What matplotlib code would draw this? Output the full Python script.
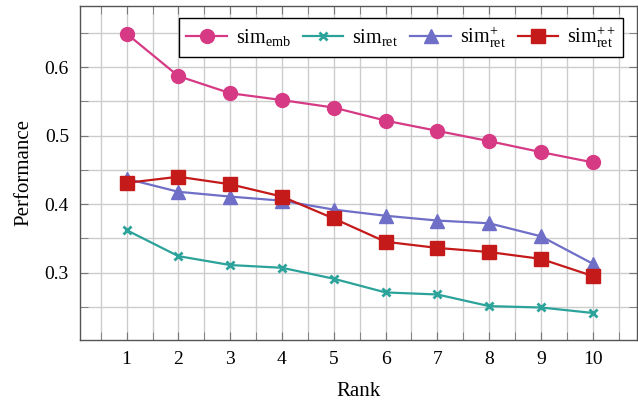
import numpy as np
import matplotlib.pyplot as plt
from matplotlib.ticker import MultipleLocator

plt.rcParams['font.family'] = ['Liberation Serif', 'DejaVu Serif']
plt.rcParams['mathtext.fontset'] = 'custom'
plt.rcParams['mathtext.rm'] = 'Liberation Serif'
plt.rcParams['mathtext.it'] = 'Liberation Serif:italic'

rank = [1, 2, 3, 4, 5, 6, 7, 8, 9, 10]
sim_emb = [0.649, 0.587, 0.562, 0.552, 0.541, 0.522, 0.507, 0.492, 0.476, 0.461]
sim_ret = [0.362, 0.324, 0.311, 0.307, 0.291, 0.271, 0.268, 0.251, 0.249, 0.241]
sim_ret_p = [0.437, 0.418, 0.411, 0.405, 0.392, 0.383, 0.376, 0.372, 0.353, 0.313]
sim_ret_pp = [0.431, 0.440, 0.429, 0.411, 0.379, 0.345, 0.336, 0.330, 0.320, 0.295]

fig = plt.figure(figsize=(6.38, 4.0), dpi=100)
ax = fig.add_axes([0.1254, 0.15, 0.8726, 0.836])

ax.plot(rank, sim_emb, color='#d63a84', lw=1.6, marker='o', ms=10, label=r'sim$_{\rm emb}$')
ax.plot(rank, sim_ret, color='#2ba39a', lw=1.6, marker='x', ms=6, mew=2, label=r'sim$_{\rm ret}$')
ax.plot(rank, sim_ret_p, color='#6f6fc8', lw=1.6, marker='^', ms=10, label=r'sim$^{+}_{\rm ret}$')
ax.plot(rank, sim_ret_pp, color='#c41a1a', lw=1.6, marker='s', ms=10, label=r'sim$^{++}_{\rm ret}$')

ax.set_xlim(0.1, 10.85)
ax.set_ylim(0.2015, 0.69)
ax.set_xticks(rank)
ax.xaxis.set_minor_locator(MultipleLocator(0.5))
ax.yaxis.set_major_locator(MultipleLocator(0.1))
ax.yaxis.set_minor_locator(MultipleLocator(0.05))
ax.grid(which='both', color='#cccccc', lw=1.0)
ax.set_axisbelow(True)
ax.tick_params(which='both', direction='in', top=True, right=True, length=6,
               color='#777777', labelsize=14, pad=8)
for s in ax.spines.values():
    s.set_color('#555555')
    s.set_linewidth(1.0)

ax.set_xlabel('Rank', fontsize=15, labelpad=10)
ax.set_ylabel('Performance', fontsize=15, labelpad=8)

leg = ax.legend(loc='upper right', ncol=4, fontsize=14.5, frameon=True, fancybox=False,
                edgecolor='black', framealpha=1, handlelength=2.0, columnspacing=0.6,
                handletextpad=0.45, borderaxespad=0, borderpad=0.35,
                bbox_to_anchor=(0.975, 0.963))
leg.get_frame().set_linewidth(1.0)

fig.savefig('out.png', dpi=100)
